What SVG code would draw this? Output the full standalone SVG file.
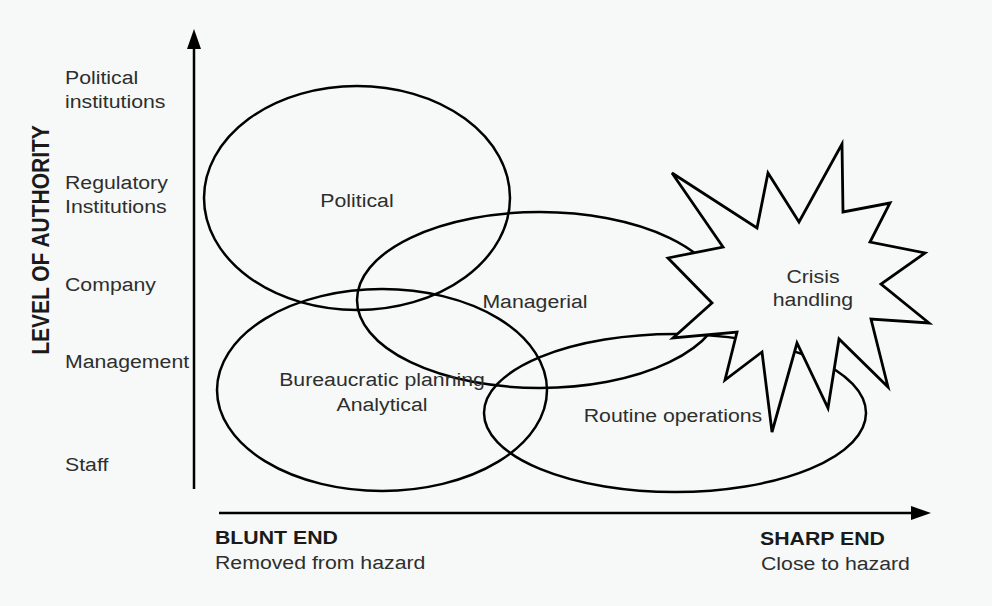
<svg xmlns="http://www.w3.org/2000/svg" width="992" height="606" viewBox="0 0 992 606">
<defs>
<style>
.bg{fill:#f6f9f7}
.shape{fill:none;stroke:#000;stroke-width:2.5}
.star{fill:#f6f9f7;stroke:#000;stroke-width:2.8;stroke-linejoin:miter}
.axis{stroke:#000;stroke-width:2.5;fill:none}
text{font-family:"Liberation Sans",Arial,sans-serif;fill:#2e2e2e;font-size:19px}
.in{text-anchor:middle}
.bold{font-weight:bold;fill:#1a1a1a}
</style>
<marker id="arr" viewBox="0 0 20 14" refX="2" refY="7" markerWidth="20" markerHeight="14" markerUnits="userSpaceOnUse" orient="auto">
<path d="M0,0 L20,7 L0,14 z" fill="#000"/>
</marker>
</defs>
<rect class="bg" x="0" y="0" width="992" height="606"/>

<g id="connectors">
<line class="axis" x1="194" y1="489" x2="194" y2="47" marker-end="url(#arr)"/>
<line class="axis" x1="219" y1="513" x2="913" y2="513" marker-end="url(#arr)"/>
</g>

<g id="axis-labels">
<text class="bold in" transform="translate(49,240) rotate(-90) scale(1,1.1)" style="font-size:21px">LEVEL OF AUTHORITY</text>
<text transform="translate(65,84) scale(1.12,1)">Political</text>
<text transform="translate(65,108) scale(1.12,1)">institutions</text>
<text transform="translate(65,189) scale(1.12,1)">Regulatory</text>
<text transform="translate(65,213) scale(1.12,1)">Institutions</text>
<text transform="translate(65,291) scale(1.12,1)">Company</text>
<text transform="translate(65,368) scale(1.12,1)">Management</text>
<text transform="translate(65,471) scale(1.12,1)">Staff</text>
<text class="bold" transform="translate(215,544) scale(1.12,1)">BLUNT END</text>
<text transform="translate(215,569) scale(1.12,1)">Removed from hazard</text>
<text class="bold" transform="translate(760,545) scale(1.12,1)">SHARP END</text>
<text transform="translate(761,570) scale(1.12,1)">Close to hazard</text>
</g>

<g id="political">
<ellipse class="shape" cx="357" cy="198" rx="153" ry="112"/>
<text class="in" transform="translate(357,207) scale(1.12,1)">Political</text>
</g>
<g id="managerial">
<ellipse class="shape" cx="540" cy="300" rx="183" ry="88"/>
<text class="in" transform="translate(535,308) scale(1.12,1)">Managerial</text>
</g>
<g id="bureaucratic">
<ellipse class="shape" cx="382" cy="390" rx="165" ry="101"/>
<text class="in" transform="translate(382,386) scale(1.12,1)">Bureaucratic planning</text>
<text class="in" transform="translate(382,411) scale(1.12,1)">Analytical</text>
</g>
<g id="routine">
<ellipse class="shape" cx="675" cy="413" rx="191" ry="79"/>
<text class="in" transform="translate(673,422) scale(1.12,1)">Routine operations</text>
</g>
<g id="crisis">
<polygon class="star" points="842,144 843,212 890,203 870,242 925,253 881,284 929,323 871,319 888,387 839,339 828,408 797,343 772,432 762,352 725,380 737,332 673,338 712,303 668,258 723,247 672,173 757,228 768,173 799,222"/>
<text class="in" transform="translate(813,283) scale(1.12,1)">Crisis</text>
<text class="in" transform="translate(813,306) scale(1.12,1)">handling</text>
</g>
</svg>
